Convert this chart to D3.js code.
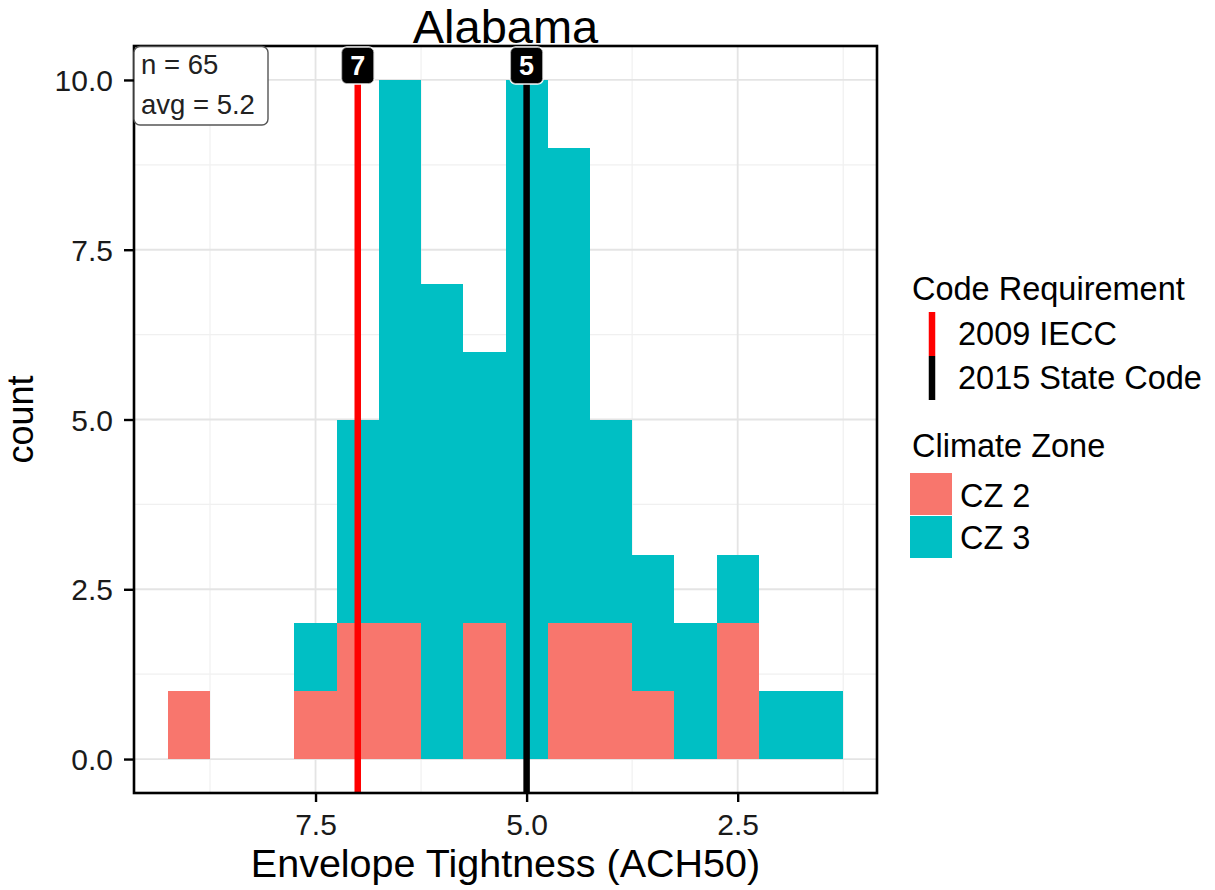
<!DOCTYPE html>
<html>
<head>
<meta charset="utf-8">
<script src="https://cdn.jsdelivr.net/npm/d3@7"></script>
<style>
  html, body { margin: 0; padding: 0; background: #fff; }
  svg { display: block; font-family: "Liberation Sans", Arial, sans-serif; }
</style>
</head>
<body>
<svg id="chart" width="1215" height="890"></svg>
<script>
// ---------------- data ----------------
const binCenters = [9.0, 8.5, 8.0, 7.5, 7.0, 6.5, 6.0, 5.5, 5.0, 4.5, 4.0, 3.5, 3.0, 2.5, 2.0, 1.5];
const binWidth = 0.5;
const cz2Counts = [1, 0, 0, 1, 2, 2, 0, 2, 0, 2, 2, 1, 0, 2, 0, 0];
const cz3Counts = [0, 0, 0, 1, 3, 8, 7, 4, 10, 7, 3, 2, 2, 1, 1, 1];
const zoneNames = ["CZ 2", "CZ 3"];
const zoneColors = ["#F8766D", "#00BFC4"];
const codeValues = [7, 5];
const codeLabels = ["7", "5"];
const codeNames = ["2009 IECC", "2015 State Code"];
const codeColors = ["#FF0000", "#000000"];
const xTicks = [7.5, 5.0, 2.5];
const xMinor = [8.75, 6.25, 3.75, 1.25];
const yTicks = [0, 2.5, 5, 7.5, 10];
const yMinor = [1.25, 3.75, 6.25, 8.75];
const titleText = "Alabama";
const annotationLines = ["n = 65", "avg = 5.2"];
const xTitle = "Envelope Tightness (ACH50)";
const yTitle = "count";

// ---------------- layout ----------------
const P = { left: 134, right: 877, top: 46, bottom: 793 };
const svg = d3.select("#chart");

const x = d3.scaleLinear().domain([9.65, 0.85]).range([P.left, P.right]);
const y = d3.scaleLinear().domain([-0.5, 10.5]).range([P.bottom, P.top]);

// panel background
svg.append("rect").attr("x", P.left).attr("y", P.top)
  .attr("width", P.right - P.left).attr("height", P.bottom - P.top).attr("fill", "#fff");

// grid
const grid = svg.append("g");
grid.selectAll(".vmin").data(xMinor).join("line")
  .attr("x1", d => x(d)).attr("x2", d => x(d)).attr("y1", P.top).attr("y2", P.bottom)
  .attr("stroke", "#f0f0f0").attr("stroke-width", 1.2);
grid.selectAll(".hmin").data(yMinor).join("line")
  .attr("y1", d => y(d)).attr("y2", d => y(d)).attr("x1", P.left).attr("x2", P.right)
  .attr("stroke", "#f0f0f0").attr("stroke-width", 1.2);
grid.selectAll(".vmaj").data(xTicks).join("line")
  .attr("x1", d => x(d)).attr("x2", d => x(d)).attr("y1", P.top).attr("y2", P.bottom)
  .attr("stroke", "#e4e4e4").attr("stroke-width", 1.8);
grid.selectAll(".hmaj").data(yTicks).join("line")
  .attr("y1", d => y(d)).attr("y2", d => y(d)).attr("x1", P.left).attr("x2", P.right)
  .attr("stroke", "#e4e4e4").attr("stroke-width", 1.8);

// stacked bars
const series = [cz2Counts, cz3Counts];
const bars = svg.append("g");
binCenters.forEach((c, i) => {
  let base = 0;
  series.forEach((s, k) => {
    const v = s[i];
    if (v > 0) {
      bars.append("rect")
        .attr("x", x(c + binWidth / 2))
        .attr("width", x(c - binWidth / 2) - x(c + binWidth / 2))
        .attr("y", y(base + v))
        .attr("height", y(base) - y(base + v))
        .attr("fill", zoneColors[k])
        .attr("shape-rendering", "crispEdges");
    }
    base += v;
  });
});

// code requirement lines
svg.append("g").selectAll("line").data(codeValues).join("line")
  .attr("x1", d => x(d)).attr("x2", d => x(d))
  .attr("y1", P.top).attr("y2", P.bottom)
  .attr("stroke", (d, i) => codeColors[i]).attr("stroke-width", 6.5);

// panel border
svg.append("rect").attr("x", P.left).attr("y", P.top)
  .attr("width", P.right - P.left).attr("height", P.bottom - P.top)
  .attr("fill", "none").attr("stroke", "#000").attr("stroke-width", 2.6);

// code labels
const lab = svg.append("g");
codeValues.forEach((v, i) => {
  const cx = x(v), cy = 65.5;
  lab.append("rect").attr("x", cx - 16).attr("y", cy - 18).attr("width", 32).attr("height", 36)
    .attr("rx", 5).attr("fill", "#000").attr("stroke", "#fff").attr("stroke-width", 2.5);
  lab.append("rect").attr("x", cx - 16).attr("y", cy - 18).attr("width", 32).attr("height", 36)
    .attr("rx", 5).attr("fill", "#000").attr("stroke", "#bbb").attr("stroke-width", 0.8);
  lab.append("text").attr("x", cx).attr("y", cy + 9.5).attr("text-anchor", "middle")
    .attr("fill", "#fff").attr("font-size", 27).attr("font-weight", "bold").text(codeLabels[i]);
});

// annotation box
const ann = svg.append("g");
ann.append("rect").attr("x", 134).attr("y", 46.5).attr("width", 134).attr("height", 78.5)
  .attr("rx", 6).attr("fill", "#fff").attr("stroke", "#555").attr("stroke-width", 1.4);
annotationLines.forEach((t, i) => {
  ann.append("text").attr("x", 141).attr("y", 74 + i * 40).attr("font-size", 27.5)
    .attr("fill", "#222").text(t);
});

// axes
const xAxis = svg.append("g").attr("transform", `translate(0,${P.bottom})`)
  .call(d3.axisBottom(x).tickValues(xTicks).tickFormat(d3.format(".1f")).tickSize(9).tickPadding(12));
const yAxis = svg.append("g").attr("transform", `translate(${P.left},0)`)
  .call(d3.axisLeft(y).tickValues(yTicks).tickFormat(d3.format(".1f")).tickSize(10).tickPadding(11));
[xAxis, yAxis].forEach(a => {
  a.select(".domain").remove();
  a.selectAll(".tick line").attr("stroke", "#000").attr("stroke-width", 2.4);
  a.selectAll(".tick text").attr("font-size", 30).attr("fill", "#1a1a1a")
    .attr("font-family", "'Liberation Sans', Arial, sans-serif");
});
yAxis.selectAll(".tick text").attr("dy", "0.35em");

// titles
svg.append("text").attr("x", (P.left + P.right) / 2).attr("y", 43).attr("text-anchor", "middle")
  .attr("font-size", 47).attr("fill", "#000").text(titleText);
svg.append("text").attr("x", (P.left + P.right) / 2).attr("y", 877).attr("text-anchor", "middle")
  .attr("font-size", 39.5).attr("fill", "#000").text(xTitle);
svg.append("text").attr("transform", `translate(33,${(P.top + P.bottom) / 2}) rotate(-90)`)
  .attr("text-anchor", "middle").attr("font-size", 36).attr("fill", "#000").text(yTitle);

// legend: code requirement
const lg = svg.append("g");
const lfs = 32.5;
lg.append("text").attr("x", 912).attr("y", 300).attr("font-size", lfs).attr("fill", "#000").text("Code Requirement");
codeNames.forEach((n, i) => {
  const y0 = 312 + i * 44;
  lg.append("line").attr("x1", 932).attr("x2", 932).attr("y1", y0).attr("y2", y0 + 44)
    .attr("stroke", codeColors[i]).attr("stroke-width", 6.5);
  lg.append("text").attr("x", 958).attr("y", 345 + i * 43.5).attr("font-size", lfs).attr("fill", "#000").text(n);
});
// legend: climate zone
lg.append("text").attr("x", 912).attr("y", 457).attr("font-size", lfs).attr("fill", "#000").text("Climate Zone");
zoneNames.forEach((n, i) => {
  const y0 = 473 + i * 43;
  lg.append("rect").attr("x", 910).attr("y", y0).attr("width", 42).attr("height", 42)
    .attr("fill", zoneColors[i]);
  lg.append("text").attr("x", 960).attr("y", 507 + i * 42).attr("font-size", lfs).attr("fill", "#000").text(n);
});
</script>
</body>
</html>
